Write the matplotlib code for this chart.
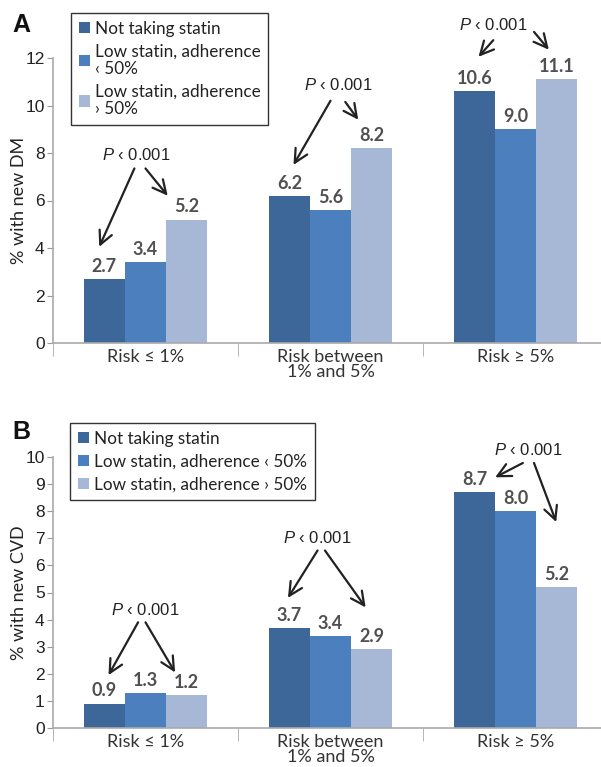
import matplotlib
matplotlib.use("Agg")
import matplotlib.pyplot as plt
import numpy as np

plt.rcParams['font.family'] = ['Liberation Sans', 'DejaVu Sans']
plt.rcParams['mathtext.fontset'] = 'custom'
plt.rcParams['mathtext.it'] = 'Liberation Sans:italic'
plt.rcParams['mathtext.rm'] = 'Liberation Sans'

categories = ["Risk \u2264 1%", "Risk between\n1% and 5%", "Risk \u2265 5%"]
series_a = ["Not taking statin", "Low statin, adherence\n\u2039 50%", "Low statin, adherence\n\u203a 50%"]
series_b = ["Not taking statin", "Low statin, adherence \u2039 50%", "Low statin, adherence \u203a 50%"]
colors = ["#3d6699", "#4b7fbe", "#a7b8d6"]

# % with new DM (panel A)
dm_not = [2.7, 6.2, 10.6]
dm_low = [3.4, 5.6, 9.0]
dm_high = [5.2, 8.2, 11.1]
# % with new CVD (panel B)
cvd_not = [0.9, 3.7, 8.7]
cvd_low = [1.3, 3.4, 8.0]
cvd_high = [1.2, 2.9, 5.2]

# P-value notes: text pos, then (start, end) of each arrow, in data units
notes_a = [((-0.05, 7.9), [((-0.06, 7.35), (-0.25, 4.05)), ((0.0, 7.35), (0.12, 6.2))]),
           ((1.04, 10.85), [((1.0, 10.2), (0.8, 7.5)), ((1.08, 10.15), (1.15, 9.4))]),
           ((1.88, 13.4), [((1.88, 12.75), (1.8, 12.05)), ((2.1, 13.1), (2.18, 12.35))])]
notes_b = [((0.0, 4.35), [((-0.04, 3.9), (-0.2, 1.95)), ((0.0, 3.9), (0.16, 2.05))]),
           ((0.93, 7.0), [((0.93, 6.55), (0.77, 4.8)), ((0.97, 6.55), (1.19, 4.45))]),
           ((2.07, 10.25), [((2.04, 9.78), (1.89, 9.25)), ((2.1, 9.78), (2.22, 7.6))])]

W = 0.222
x = np.arange(len(categories))

fig = plt.figure(figsize=(6.01, 7.67), dpi=100)


def panel(ax, groups, labels, ymax, ylabel, notes, leg_box, letter, letter_y):
    bars = []
    for i, (vals, c) in enumerate(zip(groups, colors)):
        b = ax.bar(x + (i - 1) * W, vals, W, color=c, label=labels[i], zorder=2)
        bars.append(b)
        for xi, v in zip(x + (i - 1) * W, vals):
            ax.annotate("%.1f" % v, (xi, v), xytext=(0, 3), textcoords="offset points",
                        ha="center", va="bottom", fontsize=13, color="#505050",
                        family="Lato", weight="bold")
    for (tx, ty), arrows in notes:
        ax.text(tx, ty, "$\\it{P}$ \u2039 0.001", ha="center", va="center",
                fontsize=12, color="#222222")
        for s, e in arrows:
            ax.annotate("", xy=e, xytext=s, annotation_clip=False,
                        arrowprops=dict(arrowstyle="->", lw=1.6, color="#222222",
                                        mutation_scale=24, shrinkA=0, shrinkB=0))
    ax.set_xlim(-0.5, -0.5 + 548 / 185)
    ax.set_ylim(0, ymax)
    ax.set_yticks(range(0, ymax + 1, 2 if ymax == 12 else 1))
    ax.tick_params(axis="y", length=4, color="#999999", labelsize=12.5,
                   labelcolor="#222222", pad=2)
    ax.set_xticks(x)
    ax.set_xticklabels(categories, family="Lato", fontsize=13, color="#333333",
                       linespacing=0.95)
    ax.tick_params(axis="x", which="major", length=0, pad=4)
    ax.set_xticks([-0.5, 0.5, 1.5], minor=True)
    ax.tick_params(axis="x", which="minor", length=9, color="#aaaaaa")
    for sp in ["top", "right"]:
        ax.spines[sp].set_visible(False)
    for sp in ["left", "bottom"]:
        ax.spines[sp].set_color("#aaaaaa")
        ax.spines[sp].set_linewidth(1.2)
    ax.set_ylabel(ylabel, family="Lato", fontsize=13, color="#222222", labelpad=-1)
    leg = fig.legend(handles=bars, loc="upper left", bbox_to_anchor=leg_box,
                     borderaxespad=0, fancybox=False, edgecolor="#333333",
                     framealpha=1, prop={"family": "Lato", "size": 12.3},
                     handlelength=0.65, handleheight=0.65, handletextpad=0.3,
                     labelspacing=0.4, borderpad=0.45)
    leg.get_frame().set_linewidth(1.0)
    for t in leg.get_texts():
        t.set_color("#222222")
        t.set_linespacing(1.1)
    fig.text(12 / 601, letter_y, letter, fontsize=18, weight="bold", color="#111111",
             va="center")


ax_a = fig.add_axes([53 / 601, 1 - 343 / 767, 1 - 53 / 601, (343 - 58) / 767])
panel(ax_a, [dm_not, dm_low, dm_high], series_a, 12, "% with new DM", notes_a,
      (71 / 601, 1 - 13 / 767), "A", 1 - 25 / 767)

ax_b = fig.add_axes([53 / 601, 1 - 728 / 767, 1 - 53 / 601, (728 - 457) / 767])
panel(ax_b, [cvd_not, cvd_low, cvd_high], series_b, 10, "% with new CVD", notes_b,
      (70 / 601, 1 - 423 / 767), "B", 1 - 432 / 767)

fig.savefig("out.png", dpi=100)
